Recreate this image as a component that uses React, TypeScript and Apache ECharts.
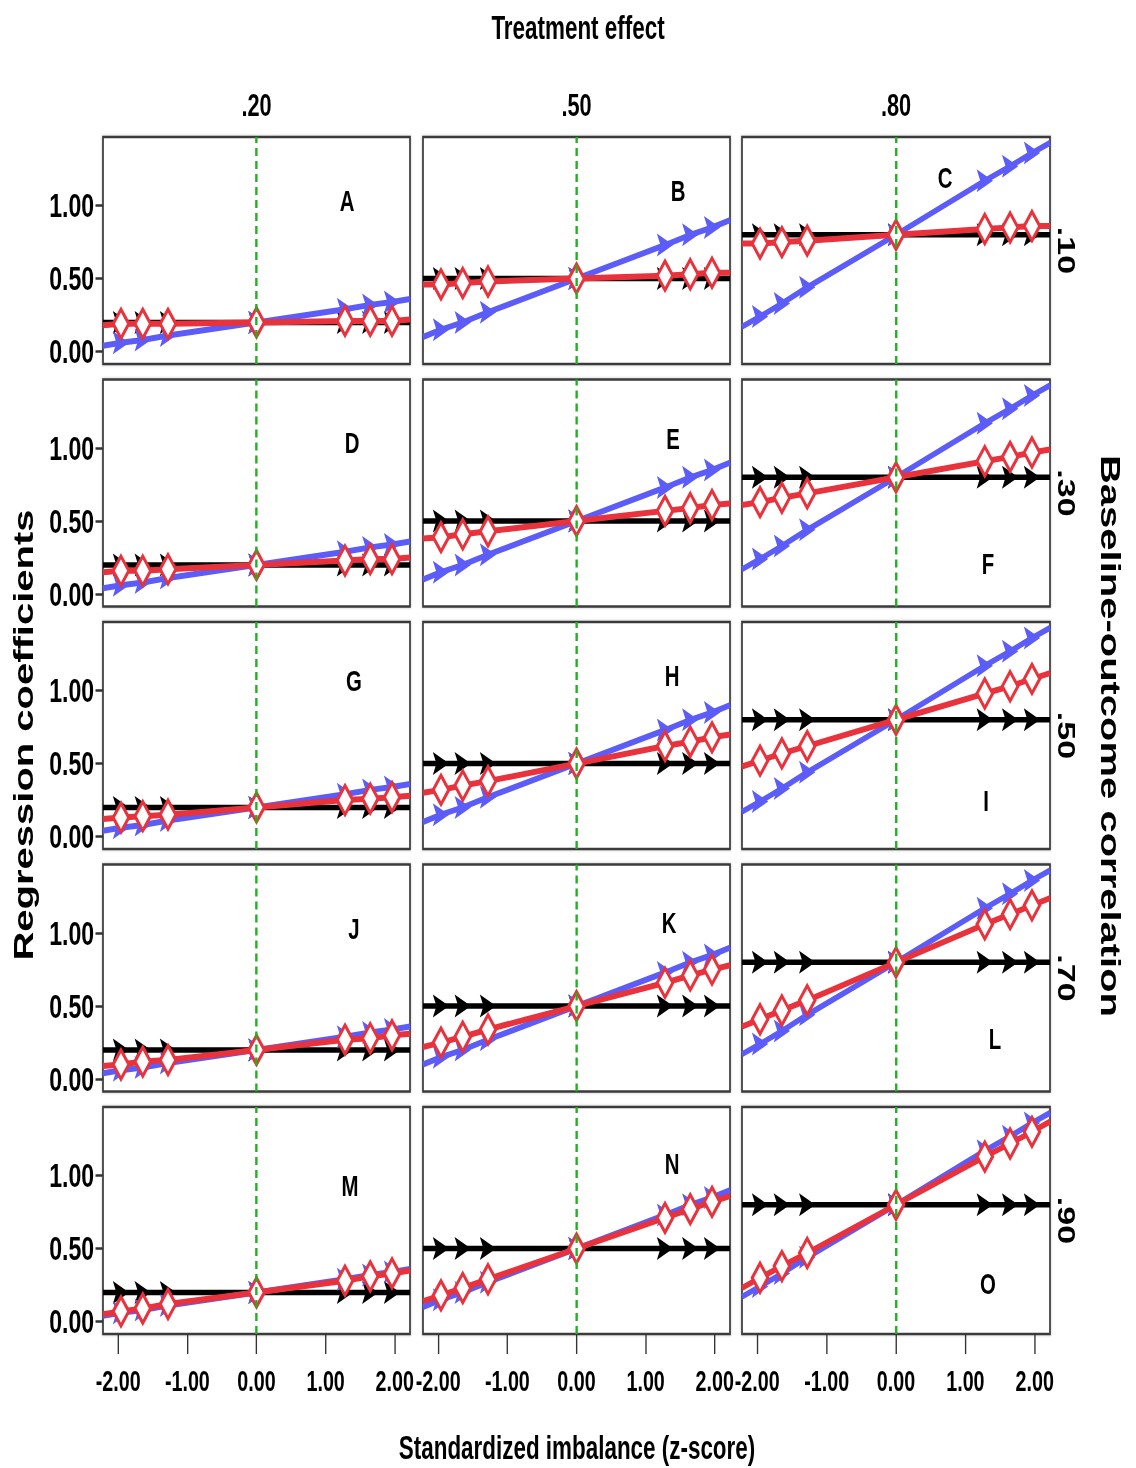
import React, { useEffect, useRef } from "react";
import * as echarts from "echarts";

// ---------- data ----------
const zScores = [-2.22, -1.96, -1.645, -1.28, 0, 1.28, 1.645, 1.96, 2.22];
const treatmentEffects = [0.2, 0.5, 0.8];
const effectLabels = [".20", ".50", ".80"];
const correlationLabels = [".10", ".30", ".50", ".70", ".90"];
const panelLetters = ["A", "B", "C", "D", "E", "F", "G", "H", "I", "J", "K", "L", "M", "N", "O"];
const xTickValues = [-2, -1, 0, 1, 2];
const yTickValues = [0, 0.5, 1];

// unadjusted estimate (blue) per treatment effect column
const unadjusted20 = [0.04, 0.06, 0.08, 0.11, 0.2, 0.29, 0.32, 0.34, 0.36];
const unadjusted50 = [0.1, 0.15, 0.2, 0.27, 0.5, 0.73, 0.8, 0.85, 0.9];
const unadjusted80 = [0.17, 0.24, 0.33, 0.44, 0.8, 1.17, 1.27, 1.36, 1.43];

// adjusted estimate (red) per correlation row / effect column
const adjusted10_20 = [0.18, 0.19, 0.19, 0.19, 0.2, 0.21, 0.21, 0.21, 0.22];
const adjusted10_50 = [0.46, 0.46, 0.47, 0.48, 0.5, 0.52, 0.53, 0.54, 0.54];
const adjusted10_80 = [0.74, 0.74, 0.75, 0.76, 0.8, 0.84, 0.85, 0.86, 0.86];
const adjusted30_20 = [0.15, 0.16, 0.16, 0.17, 0.2, 0.23, 0.24, 0.24, 0.25];
const adjusted30_50 = [0.38, 0.39, 0.41, 0.43, 0.5, 0.57, 0.59, 0.61, 0.62];
const adjusted30_80 = [0.61, 0.63, 0.66, 0.69, 0.8, 0.91, 0.94, 0.97, 0.99];
const adjusted50_20 = [0.12, 0.13, 0.14, 0.15, 0.2, 0.25, 0.26, 0.27, 0.28];
const adjusted50_50 = [0.3, 0.32, 0.35, 0.38, 0.5, 0.62, 0.65, 0.68, 0.7];
const adjusted50_80 = [0.48, 0.52, 0.57, 0.62, 0.8, 0.98, 1.03, 1.08, 1.12];
const adjusted70_20 = [0.09, 0.1, 0.12, 0.13, 0.2, 0.27, 0.28, 0.3, 0.31];
const adjusted70_50 = [0.22, 0.25, 0.29, 0.34, 0.5, 0.66, 0.71, 0.75, 0.78];
const adjusted70_80 = [0.36, 0.41, 0.47, 0.54, 0.8, 1.06, 1.13, 1.19, 1.24];
const adjusted90_20 = [0.05, 0.07, 0.09, 0.12, 0.2, 0.28, 0.31, 0.33, 0.35];
const adjusted90_50 = [0.14, 0.18, 0.23, 0.29, 0.5, 0.71, 0.77, 0.82, 0.86];
const adjusted90_80 = [0.23, 0.3, 0.38, 0.47, 0.8, 1.13, 1.22, 1.3, 1.37];

const unadjusted = [unadjusted20, unadjusted50, unadjusted80];
const adjusted = [
  [adjusted10_20, adjusted10_50, adjusted10_80],
  [adjusted30_20, adjusted30_50, adjusted30_80],
  [adjusted50_20, adjusted50_50, adjusted50_80],
  [adjusted70_20, adjusted70_50, adjusted70_80],
  [adjusted90_20, adjusted90_50, adjusted90_80],
];

// ---------- layout (page pixels; the chart is drawn wider and squeezed horizontally) ----------
const SQUEEZE = 0.68;
const PAGE_W = 1136;
const PAGE_H = 1468;
const sx = (x: number) => x / SQUEEZE;

const colLeft = [103, 423, 742];
const colWidth = [307, 307, 308];
const rowTop = [137, 379.5, 622, 864.5, 1107];
const rowHeight = 227;
const X_MIN = -2.22;
const X_MAX = 2.22;
const Y_MIN = -0.085;
const Y_MAX = 1.47;
const letterPos: [number, number][] = [
  [347, 200], [678, 190], [945, 177],
  [352, 442], [673, 438], [988, 563],
  [354, 680], [672, 675], [986, 800],
  [354, 928], [669, 922], [995, 1038],
  [350, 1185], [672, 1163], [988, 1283],
];

const SANS = "'Liberation Sans', Arial, sans-serif";
const BLUE = "#5c5cf8";
const RED = "#e8323c";
const GREEN = "#1fb21f";
const ARROW = "path://M0,0 L10,5 L0,10 L2.2,5 Z";

function buildOption() {
  const grid: any[] = [];
  const xAxis: any[] = [];
  const yAxis: any[] = [];
  const series: any[] = [];
  const graphic: any[] = [];

  for (let r = 0; r < 5; r++) {
    for (let c = 0; c < 3; c++) {
      const g = r * 3 + c;
      grid.push({
        left: sx(colLeft[c]),
        top: rowTop[r],
        width: sx(colWidth[c]),
        height: rowHeight,
        show: true,
        borderColor: "#3a3a3a",
        borderWidth: 2.5,
        backgroundColor: "#fff",
        shadowColor: "rgba(0,0,0,0.25)",
        shadowBlur: 3,
      });
      const bottomRow = r === 4;
      xAxis.push({
        type: "value",
        gridIndex: g,
        min: X_MIN,
        max: X_MAX,
        axisLine: { show: false, onZero: false },
        splitLine: { show: false },
        axisTick: {
          show: bottomRow,
          customValues: xTickValues,
          length: 20,
          lineStyle: { color: "#333", width: 2 },
        },
        axisLabel: {
          show: bottomRow,
          customValues: xTickValues,
          showMinLabel: true,
          showMaxLabel: true,
          formatter: (v: number) => v.toFixed(2),
          fontFamily: SANS,
          fontWeight: "bold",
          fontSize: 29,
          color: "#000",
          margin: 33,
        },
      });
      const leftCol = c === 0;
      yAxis.push({
        type: "value",
        gridIndex: g,
        min: Y_MIN,
        max: Y_MAX,
        axisLine: { show: false, onZero: false },
        splitLine: { show: false },
        axisTick: {
          show: leftCol,
          customValues: yTickValues,
          length: 11,
          lineStyle: { color: "#333", width: 2.5 },
        },
        axisLabel: {
          show: leftCol,
          customValues: yTickValues,
          showMinLabel: true,
          showMaxLabel: true,
          formatter: (v: number) => v.toFixed(2),
          fontFamily: SANS,
          fontWeight: "bold",
          fontSize: 34,
          color: "#000",
          margin: 13,
        },
      });

      const eff = treatmentEffects[c];
      const toData = (vals: number[]) =>
        zScores.map((x, i) =>
          i === 0 || i === zScores.length - 1
            ? { value: [x, vals[i]], symbol: "none" }
            : { value: [x, vals[i]] }
        );

      series.push({
        type: "line",
        xAxisIndex: g,
        yAxisIndex: g,
        data: toData(zScores.map(() => eff)),
        symbol: ARROW,
        symbolSize: [24, 23],
        symbolKeepAspect: false,
        itemStyle: { color: "#000" },
        lineStyle: { color: "#000", width: 5.5 },
        z: 2,
        silent: true,
      });
      series.push({
        type: "line",
        xAxisIndex: g,
        yAxisIndex: g,
        data: toData(unadjusted[c]),
        symbol: ARROW,
        symbolSize: [24, 23],
        symbolKeepAspect: false,
        itemStyle: { color: BLUE },
        lineStyle: { color: BLUE, width: 6 },
        z: 3,
        silent: true,
      });
      series.push({
        type: "line",
        xAxisIndex: g,
        yAxisIndex: g,
        data: toData(adjusted[r][c]),
        symbol: "diamond",
        symbolSize: [23, 29],
        itemStyle: { color: "#fff", borderColor: RED, borderWidth: 4 },
        lineStyle: { color: RED, width: 6 },
        z: 4,
        silent: true,
      });
      series.push({
        type: "line",
        xAxisIndex: g,
        yAxisIndex: g,
        data: [],
        z: 6,
        silent: true,
        markLine: {
          silent: true,
          symbol: "none",
          label: { show: false },
          lineStyle: { color: GREEN, type: [8, 5], width: 3.5 },
          data: [{ xAxis: 0 }],
        },
      });

      graphic.push({
        type: "text",
        x: sx(letterPos[g][0]),
        y: letterPos[g][1],
        z: 100,
        style: {
          text: panelLetters[g],
          font: `bold 30px ${SANS}`,
          fill: "#000",
          align: "center",
          verticalAlign: "middle",
        },
      });
    }
  }

  // column headers
  for (let c = 0; c < 3; c++) {
    graphic.push({
      type: "text",
      x: sx(colLeft[c] + colWidth[c] / 2),
      y: 105,
      style: {
        text: effectLabels[c],
        font: `bold 32px ${SANS}`,
        fill: "#000",
        align: "center",
        verticalAlign: "middle",
      },
    });
  }
  // row headers
  for (let r = 0; r < 5; r++) {
    graphic.push({
      type: "text",
      x: sx(1066),
      y: rowTop[r] + rowHeight / 2,
      rotation: -Math.PI / 2,
      style: {
        text: correlationLabels[r],
        font: `bold 34px ${SANS}`,
        fill: "#000",
        align: "center",
        verticalAlign: "middle",
      },
    });
  }
  graphic.push(
    {
      type: "text",
      x: sx(578),
      y: 27,
      style: {
        text: "Treatment effect",
        font: `bold 33px ${SANS}`,
        fill: "#000",
        align: "center",
        verticalAlign: "middle",
      },
    },
    {
      type: "text",
      x: sx(577),
      y: 1447,
      style: {
        text: "Standardized imbalance (z-score)",
        font: `bold 33px ${SANS}`,
        fill: "#000",
        align: "center",
        verticalAlign: "middle",
      },
    },
    {
      type: "text",
      x: sx(23),
      y: 735,
      rotation: Math.PI / 2,
      style: {
        text: "Regression coefficients",
        font: `bold 40px ${SANS}`,
        fill: "#000",
        align: "center",
        verticalAlign: "middle",
      },
    },
    {
      type: "text",
      x: sx(1111),
      y: 736,
      rotation: -Math.PI / 2,
      style: {
        text: "Baseline-outcome correlation",
        font: `bold 40px ${SANS}`,
        fill: "#000",
        align: "center",
        verticalAlign: "middle",
      },
    }
  );

  return {
    animation: false,
    backgroundColor: "#fff",
    grid,
    xAxis,
    yAxis,
    series,
    graphic,
  };
}

export default function App() {
  const ref = useRef<HTMLDivElement>(null);
  useEffect(() => {
    if (!ref.current) return;
    const chart = echarts.init(ref.current, undefined, { renderer: "svg" });
    chart.setOption(buildOption() as any);
    return () => chart.dispose();
  }, []);
  return (
    <div style={{ position: "absolute", left: 0, top: 0, width: PAGE_W, height: PAGE_H, overflow: "hidden" }}>
      <div
        ref={ref}
        style={{
          width: sx(PAGE_W),
          height: PAGE_H,
          transform: `scaleX(${SQUEEZE})`,
          transformOrigin: "0 0",
        }}
      />
    </div>
  );
}
